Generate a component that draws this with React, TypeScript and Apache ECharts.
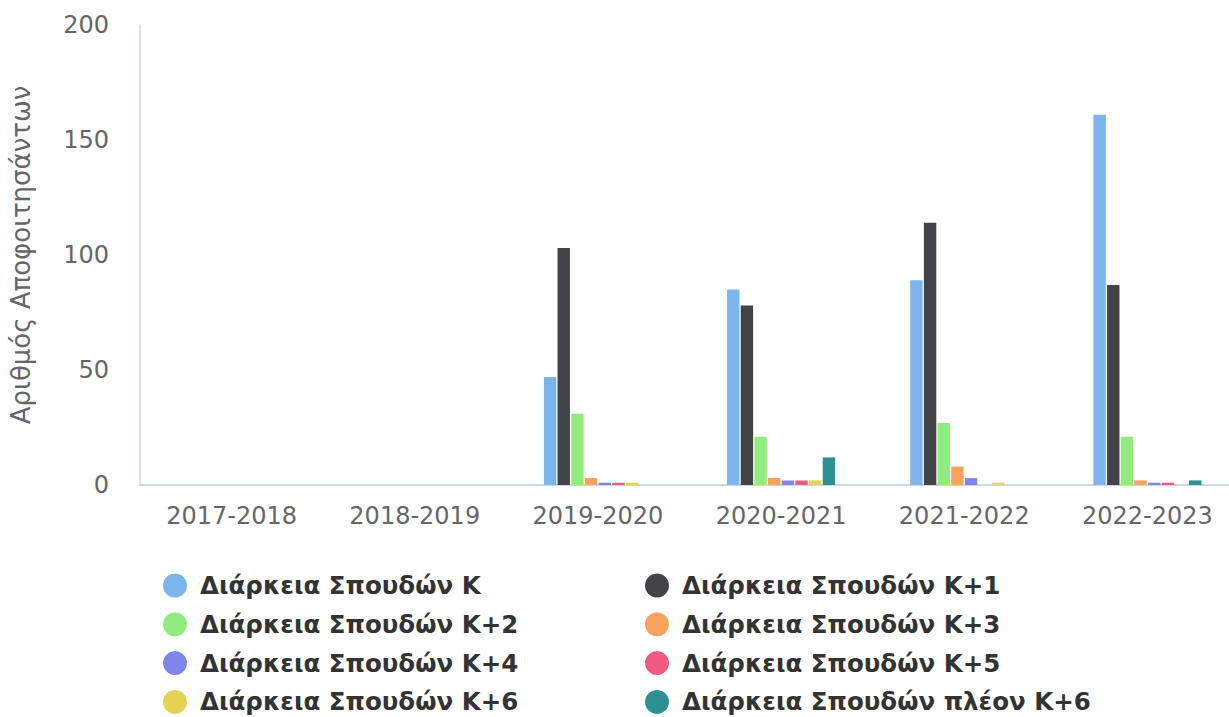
import React, { useEffect, useRef } from "react";
import * as echarts from "echarts";

const categories = ["2017-2018", "2018-2019", "2019-2020", "2020-2021", "2021-2022", "2022-2023"];
const seriesNames = [
  "Διάρκεια Σπουδών Κ",
  "Διάρκεια Σπουδών Κ+1",
  "Διάρκεια Σπουδών Κ+2",
  "Διάρκεια Σπουδών Κ+3",
  "Διάρκεια Σπουδών Κ+4",
  "Διάρκεια Σπουδών Κ+5",
  "Διάρκεια Σπουδών Κ+6",
  "Διάρκεια Σπουδών πλέον Κ+6",
];
const kValues = [0, 0, 47, 85, 89, 161];
const k1Values = [0, 0, 103, 78, 114, 87];
const k2Values = [0, 0, 31, 21, 27, 21];
const k3Values = [0, 0, 3, 3, 8, 2];
const k4Values = [0, 0, 1, 2, 3, 1];
const k5Values = [0, 0, 1, 2, 0, 1];
const k6Values = [0, 0, 1, 2, 1, 0];
const kMoreValues = [0, 0, 0, 12, 0, 2];
const allValues = [kValues, k1Values, k2Values, k3Values, k4Values, k5Values, k6Values, kMoreValues];
const colors = ["#7cb5ec", "#434348", "#90ed7d", "#f7a35c", "#8085e9", "#f15c80", "#e4d354", "#2b908f"];
const yTitle = "Αριθμός Αποφοιτησάντων";

export default function App() {
  const ref = useRef<HTMLDivElement>(null);
  useEffect(() => {
    if (!ref.current) return;
    const chart = echarts.init(ref.current, undefined, { renderer: "svg" });
    const legendText = {
      fontFamily: "DejaVu Sans",
      fontWeight: "bold" as const,
      fontSize: 24.5,
      color: "#333333",
      padding: [0, 0, 0, 8],
    };
    const legendCommon = {
      orient: "vertical",
      top: 573,
      padding: 0,
      itemWidth: 24,
      itemHeight: 24,
      itemGap: 13.8,
      icon: "circle",
      selectedMode: false,
      textStyle: legendText,
    };
    chart.setOption({
      animation: false,
      color: colors,
      grid: { left: 133, right: 6, top: 25, bottom: 232, containLabel: false },
      legend: [
        { ...legendCommon, left: 163, data: [seriesNames[0], seriesNames[2], seriesNames[4], seriesNames[6]] },
        { ...legendCommon, left: 645, data: [seriesNames[1], seriesNames[3], seriesNames[5], seriesNames[7]] },
      ],
      xAxis: {
        type: "category",
        data: categories,
        axisLine: { show: true, lineStyle: { color: "#ccd6eb", width: 2 } },
        axisTick: { show: false },
        axisLabel: { color: "#666666", fontSize: 24, fontFamily: "DejaVu Sans", margin: 19 },
        splitLine: { show: false },
      },
      yAxis: {
        type: "value",
        min: 0,
        max: 200,
        interval: 50,
        name: yTitle,
        nameLocation: "middle",
        nameGap: 106,
        nameRotate: 90,
        nameTextStyle: { color: "#666666", fontSize: 26, fontFamily: "DejaVu Sans" },
        axisLine: { show: true, lineStyle: { color: "#ccd6eb", width: 1.5 } },
        axisTick: { show: false },
        axisLabel: { color: "#666666", fontSize: 24, fontFamily: "DejaVu Sans", margin: 31 },
        splitLine: { show: false },
      },
      series: seriesNames.map((name, i) => ({
        name,
        type: "bar",
        data: allValues[i],
        barCategoryGap: "41%",
        barGap: "10%",
        itemStyle: { color: colors[i] },
      })),
    });
    return () => chart.dispose();
  }, []);
  return (
    <div
      ref={ref}
      style={{ position: "fixed", left: 0, top: 0, width: 1245, height: 717, background: "#ffffff" }}
    />
  );
}
